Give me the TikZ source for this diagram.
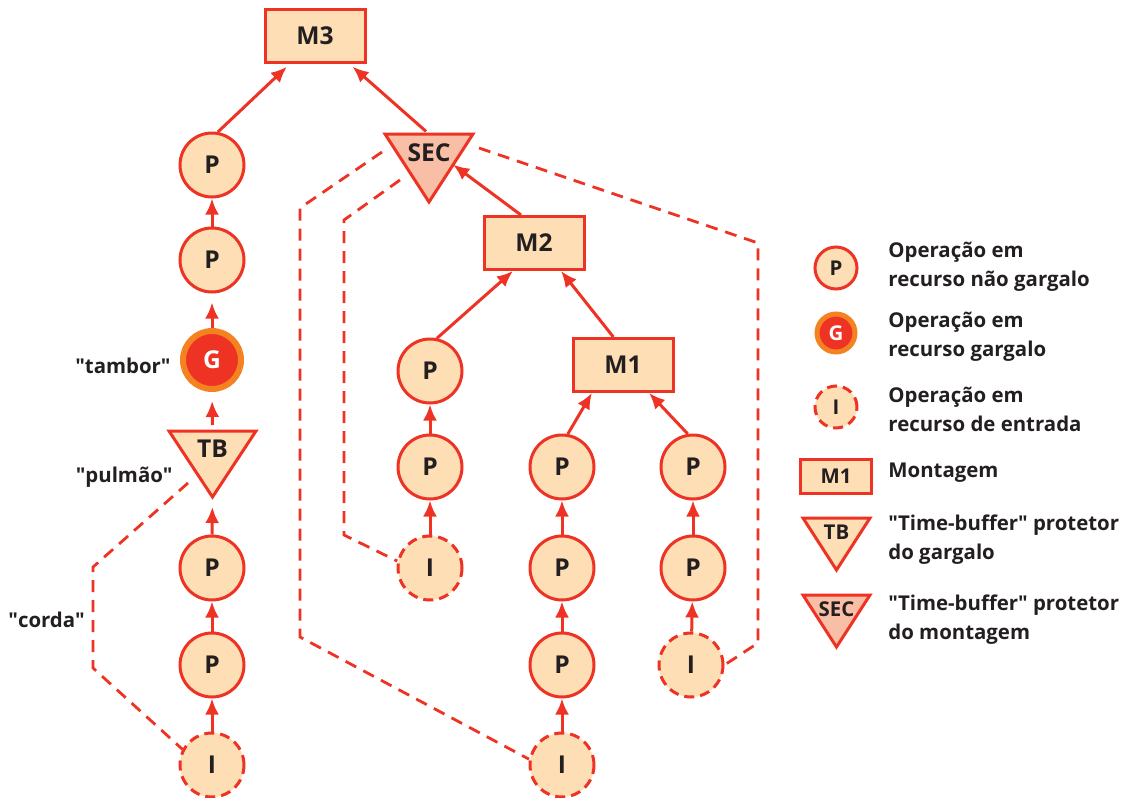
\documentclass[tikz,border=0pt]{standalone}
\usepackage{fontspec}
\setmainfont{Open Sans}
\usetikzlibrary{arrows.meta,calc}
\tikzset{>=Latex}
\definecolor{rd}{RGB}{238,50,36}
\definecolor{peach}{RGB}{253,222,181}
\definecolor{salmon}{RGB}{249,190,166}
\definecolor{ring}{RGB}{245,130,32}
\definecolor{ink}{RGB}{35,31,32}
\newcommand{\bigfont}{\fontsize{12.3}{14}\selectfont\bfseries}
\newcommand{\smallfont}{\fontsize{10.2}{14.5}\selectfont\bfseries}
\newcommand{\qd}{\textquotedbl}
\tikzset{
  op/.style={circle,draw=rd,fill=peach,line width=1.5pt,minimum size=32pt,inner sep=0pt,text=ink,font=\bigfont},
  ent/.style={op,dash pattern=on 5pt off 3pt},
  gar/.style={circle,draw=ring,fill=rd,line width=3pt,minimum size=29pt,inner sep=0pt,text=white,font=\bigfont},
  mont/.style={rectangle,draw=rd,fill=peach,line width=1.5pt,minimum width=50pt,minimum height=26.5pt,text=ink,font=\bigfont},
  tri/.style={draw=rd,line width=1.5pt,line join=miter},
  lig/.style={->,draw=rd,line width=1.5pt,-{Latex[length=8pt,width=7pt]}},
  corda/.style={draw=rd,line width=1.4pt,dash pattern=on 6pt off 4pt},
  lbl/.style={text=ink,font=\smallfont,inner sep=0pt},
  legtxt/.style={lbl,align=left,anchor=west}
}
% name, x, top y, half width, height, fill, font, text
\newcommand{\buftri}[8]{%
  \coordinate (#1-l) at (#2-#4,#3);
  \coordinate (#1-r) at (#2+#4,#3);
  \coordinate (#1-a) at (#2,#3+#5);
  \coordinate (#1-t) at (#2,#3);
  \filldraw[tri,fill=#6] (#1-l) -- (#1-r) -- (#1-a) -- cycle;
  \node[text=ink,font=#7,inner sep=0pt] (#1) at (#2,#3+0.27*#5) {#8};}

\begin{document}
\begin{tikzpicture}[x=0.5pt,y=-0.5pt]
\useasboundingbox (0,0) rectangle (1126,798);
% left chain
\node[mont] (M3) at (315,36) {M3};
\node[op] (P1) at (212,165) {P};
\node[op] (P2) at (212,260) {P};
\node[gar] (G) at (212,360) {G};
\buftri{TB}{212.5}{431}{43.5}{66}{peach}{\bigfont}{TB}
\node[op] (P3) at (212,568) {P};
\node[op] (P4) at (212,665) {P};
\node[ent] (I1) at (212,765) {I};
\node[lbl,anchor=east] (tambor) at (171,366) {\qd tambor\qd};
\node[lbl,anchor=east] (pulmao) at (173,477) {\qd pulmão\qd};
\node[lbl,anchor=west] (cordalbl) at (8,620) {\qd corda\qd};
% assembly side
\buftri{SEC}{429}{134}{44}{68}{salmon}{\bigfont}{SEC}
\node[mont] (M2) at (534,243) {M2};
\node[mont] (M1) at (623,365) {M1};
\node[op] (P5) at (430,371) {P};
\node[op] (P6) at (430,467) {P};
\node[ent] (I2) at (430,568) {I};
\node[op] (P7) at (562,467) {P};
\node[op] (P8) at (562,568) {P};
\node[op] (P9) at (562,665) {P};
\node[ent] (I3) at (562,765) {I};
\node[op] (P10) at (693,467) {P};
\node[op] (P11) at (693,568) {P};
\node[ent] (I4) at (691,665) {I};
% arrows
\draw[lig,shorten >=2pt] (P1.80) -- (M3.228);
\draw[lig,shorten <=2pt,shorten >=2pt] (SEC-t) -- (M3.321);
\draw[lig] (P2) -- (P1);
\draw[lig,shorten >=4.5pt] (G) -- (P2);
\draw[lig,shorten <=3pt,shorten >=4.5pt] (TB-t) -- (G.south);
\draw[lig,shorten >=5pt] (P3.north) -- (TB-a);
\draw[lig] (P4) -- (P3);
\draw[lig] (I1) -- (P4);
\draw[lig] (M2.115) -- ($(SEC-r)!0.45!(SEC-a)$);
\draw[lig] (P5.78) -- (M2.233);
\draw[lig] (M1.109) -- (M2.314);
\draw[lig] (P6) -- (P5);
\draw[lig] (I2) -- (P6);
\draw[lig] (P7.80) -- (M1.222);
\draw[lig] (P10.99) -- (M1.313);
\draw[lig] (P8) -- (P7);
\draw[lig] (P9) -- (P8);
\draw[lig] (I3) -- (P9);
\draw[lig] (P11) -- (P10);
\draw[lig] (I4) -- (P11);
% ropes
\coordinate (c1) at (188,483);
\coordinate (c2) at (382,152);
\coordinate (c3) at (400,180);
\coordinate (c4) at (479,148);
\draw[corda] (c1) -- (93,567) -- (93,668) -- (I1.152);
\draw[corda] (c2) -- (300,208) -- (300,637) -- (I3.170);
\draw[corda] (c3) -- (344,220) -- (344,535) -- (I2.168);
\draw[corda] (c4) -- (758,243) -- (758,643) -- (I4.east);
% legend
\node[op,minimum size=21pt,font=\smallfont] (lP) at (836,268) {P};
\node[gar,minimum size=19pt,line width=2.5pt,font=\smallfont] (lG) at (836,333) {G};
\node[ent,minimum size=21pt,font=\smallfont] (lI) at (836,407) {I};
\node[mont,minimum width=35.5pt,minimum height=17pt,font=\smallfont] (lM) at (836,476) {M1};
\buftri{lTB}{836.5}{518}{33.5}{52}{peach}{\smallfont}{TB}
\buftri{lSEC}{836.5}{595}{33.5}{52}{salmon}{\smallfont}{SEC}
\node[legtxt] (tP) at (888,267) {Operação em\\recurso não gargalo};
\node[legtxt] (tG) at (888,337) {Operação em\\recurso gargalo};
\node[legtxt] (tI) at (888,409) {Operação em\\recurso de entrada};
\node[legtxt] (tM) at (888,473) {Montagem};
\node[legtxt] (tTB) at (888,540) {\qd Time-buffer\qd{} protetor\\do gargalo};
\node[legtxt] (tSEC) at (888,620) {\qd Time-buffer\qd{} protetor\\do montagem};
\end{tikzpicture}
\end{document}
